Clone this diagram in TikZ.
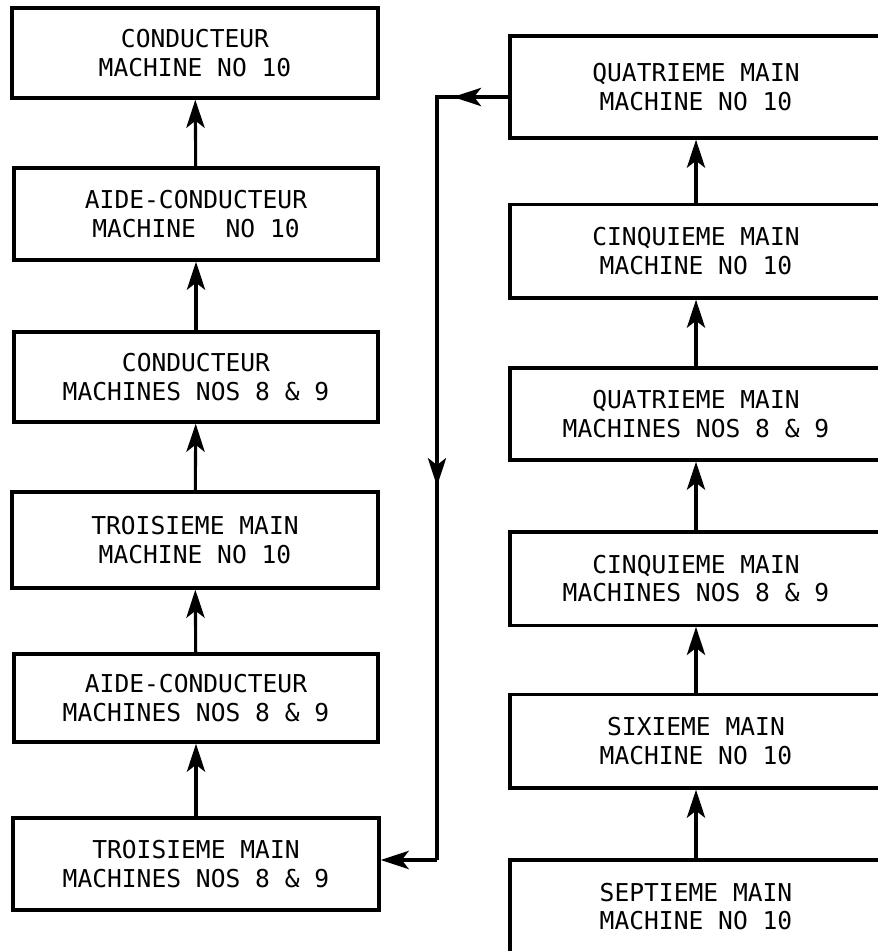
\documentclass[tikz,border=0pt]{standalone}
\usepackage{fontspec}
\setmainfont{DejaVu Sans Mono}
\usepackage{tikz}
\usetikzlibrary{shapes,arrows.meta,calc}

\begin{document}
\begin{tikzpicture}
    \tikzset{poste/.style={draw,rectangle,line width=2.4pt,align=center,font=\fontsize{17.5}{20.5}\selectfont,inner sep=0pt},text centered,color=black}
    \tikzstyle{fleche}=[-{Stealth[length=20pt,width=13pt,inset=5pt]},line width=2.2pt]
    \tikzstyle{ligne}=[line width=2.2pt]
    \clip (0,0) rectangle (21.95,23.775);
    \fill[white] (0,0) rectangle (21.95,23.775);

    % colonne de gauche
    \node[poste,minimum width=9.15cm,minimum height=2.25cm] (COND10) at (4.875,22.45) {CONDUCTEUR\\MACHINE NO 10};
    \node[poste,minimum width=9.1cm,minimum height=2.3cm] (AIDE10) at (4.9,18.425) {AIDE-CONDUCTEUR\\MACHINE\ \ NO 10};
    \node[poste,minimum width=9.1cm,minimum height=2.25cm] (COND89) at (4.9,14.35) {CONDUCTEUR\\MACHINES NOS 8 \& 9};
    \node[poste,minimum width=9.15cm,minimum height=2.4cm] (TROIS10) at (4.875,10.275) {TROISIEME MAIN\\MACHINE NO 10};
    \node[poste,minimum width=9.1cm,minimum height=2.2cm] (AIDE89) at (4.9,6.325) {AIDE-CONDUCTEUR\\MACHINES NOS 8 \& 9};
    \node[poste,minimum width=9.15cm,minimum height=2.3cm] (TROIS89) at (4.9,2.175) {TROISIEME MAIN\\MACHINES NOS 8 \& 9};
    \draw[fleche] (AIDE10)--(COND10);
    \draw[fleche] (COND89)--(AIDE10);
    \draw[fleche] (TROIS10)--(COND89);
    \draw[fleche] (AIDE89)--(TROIS10);
    \draw[fleche] (TROIS89)--(AIDE89);

    % colonne de droite
    \node[poste,minimum width=9.3cm,minimum height=2.55cm] (QUAT10) at (17.4,21.6) {QUATRIEME MAIN\\MACHINE NO 10};
    \node[poste,minimum width=9.3cm,minimum height=2.33cm] (CINQ10) at (17.4,17.49) {CINQUIEME MAIN\\MACHINE NO 10};
    \node[poste,minimum width=9.3cm,minimum height=2.3cm] (QUAT89) at (17.4,13.425) {QUATRIEME MAIN\\MACHINES NOS 8 \& 9};
    \node[poste,minimum width=9.3cm,minimum height=2.33cm] (CINQ89) at (17.4,9.31) {CINQUIEME MAIN\\MACHINES NOS 8 \& 9};
    \node[poste,minimum width=9.3cm,minimum height=2.33cm] (SIX10) at (17.4,5.24) {SIXIEME MAIN\\MACHINE NO 10};
    \node[poste,minimum width=9.3cm,minimum height=2.33cm] (SEPT10) at (17.4,1.11) {SEPTIEME MAIN\\MACHINE NO 10};
    \draw[fleche] (CINQ10)--(QUAT10);
    \draw[fleche] (QUAT89)--(CINQ10);
    \draw[fleche] (CINQ89)--(QUAT89);
    \draw[fleche] (SIX10)--(CINQ89);
    \draw[fleche] (SEPT10)--(SIX10);

    % retour vers la gauche
    \coordinate (H) at (10.925,21.35);
    \coordinate (B) at (10.925,2.275);
    \draw[ligne] (H -| QUAT10.west)--(H)--(B);
    \draw[fleche] (H -| QUAT10.west)--($(H)+(0.4,0)$);
    \draw[fleche] (H)--($(H)!0.51!(B)$);
    \draw[fleche] (B)--(B -| TROIS89.east);
\end{tikzpicture}
\end{document}
